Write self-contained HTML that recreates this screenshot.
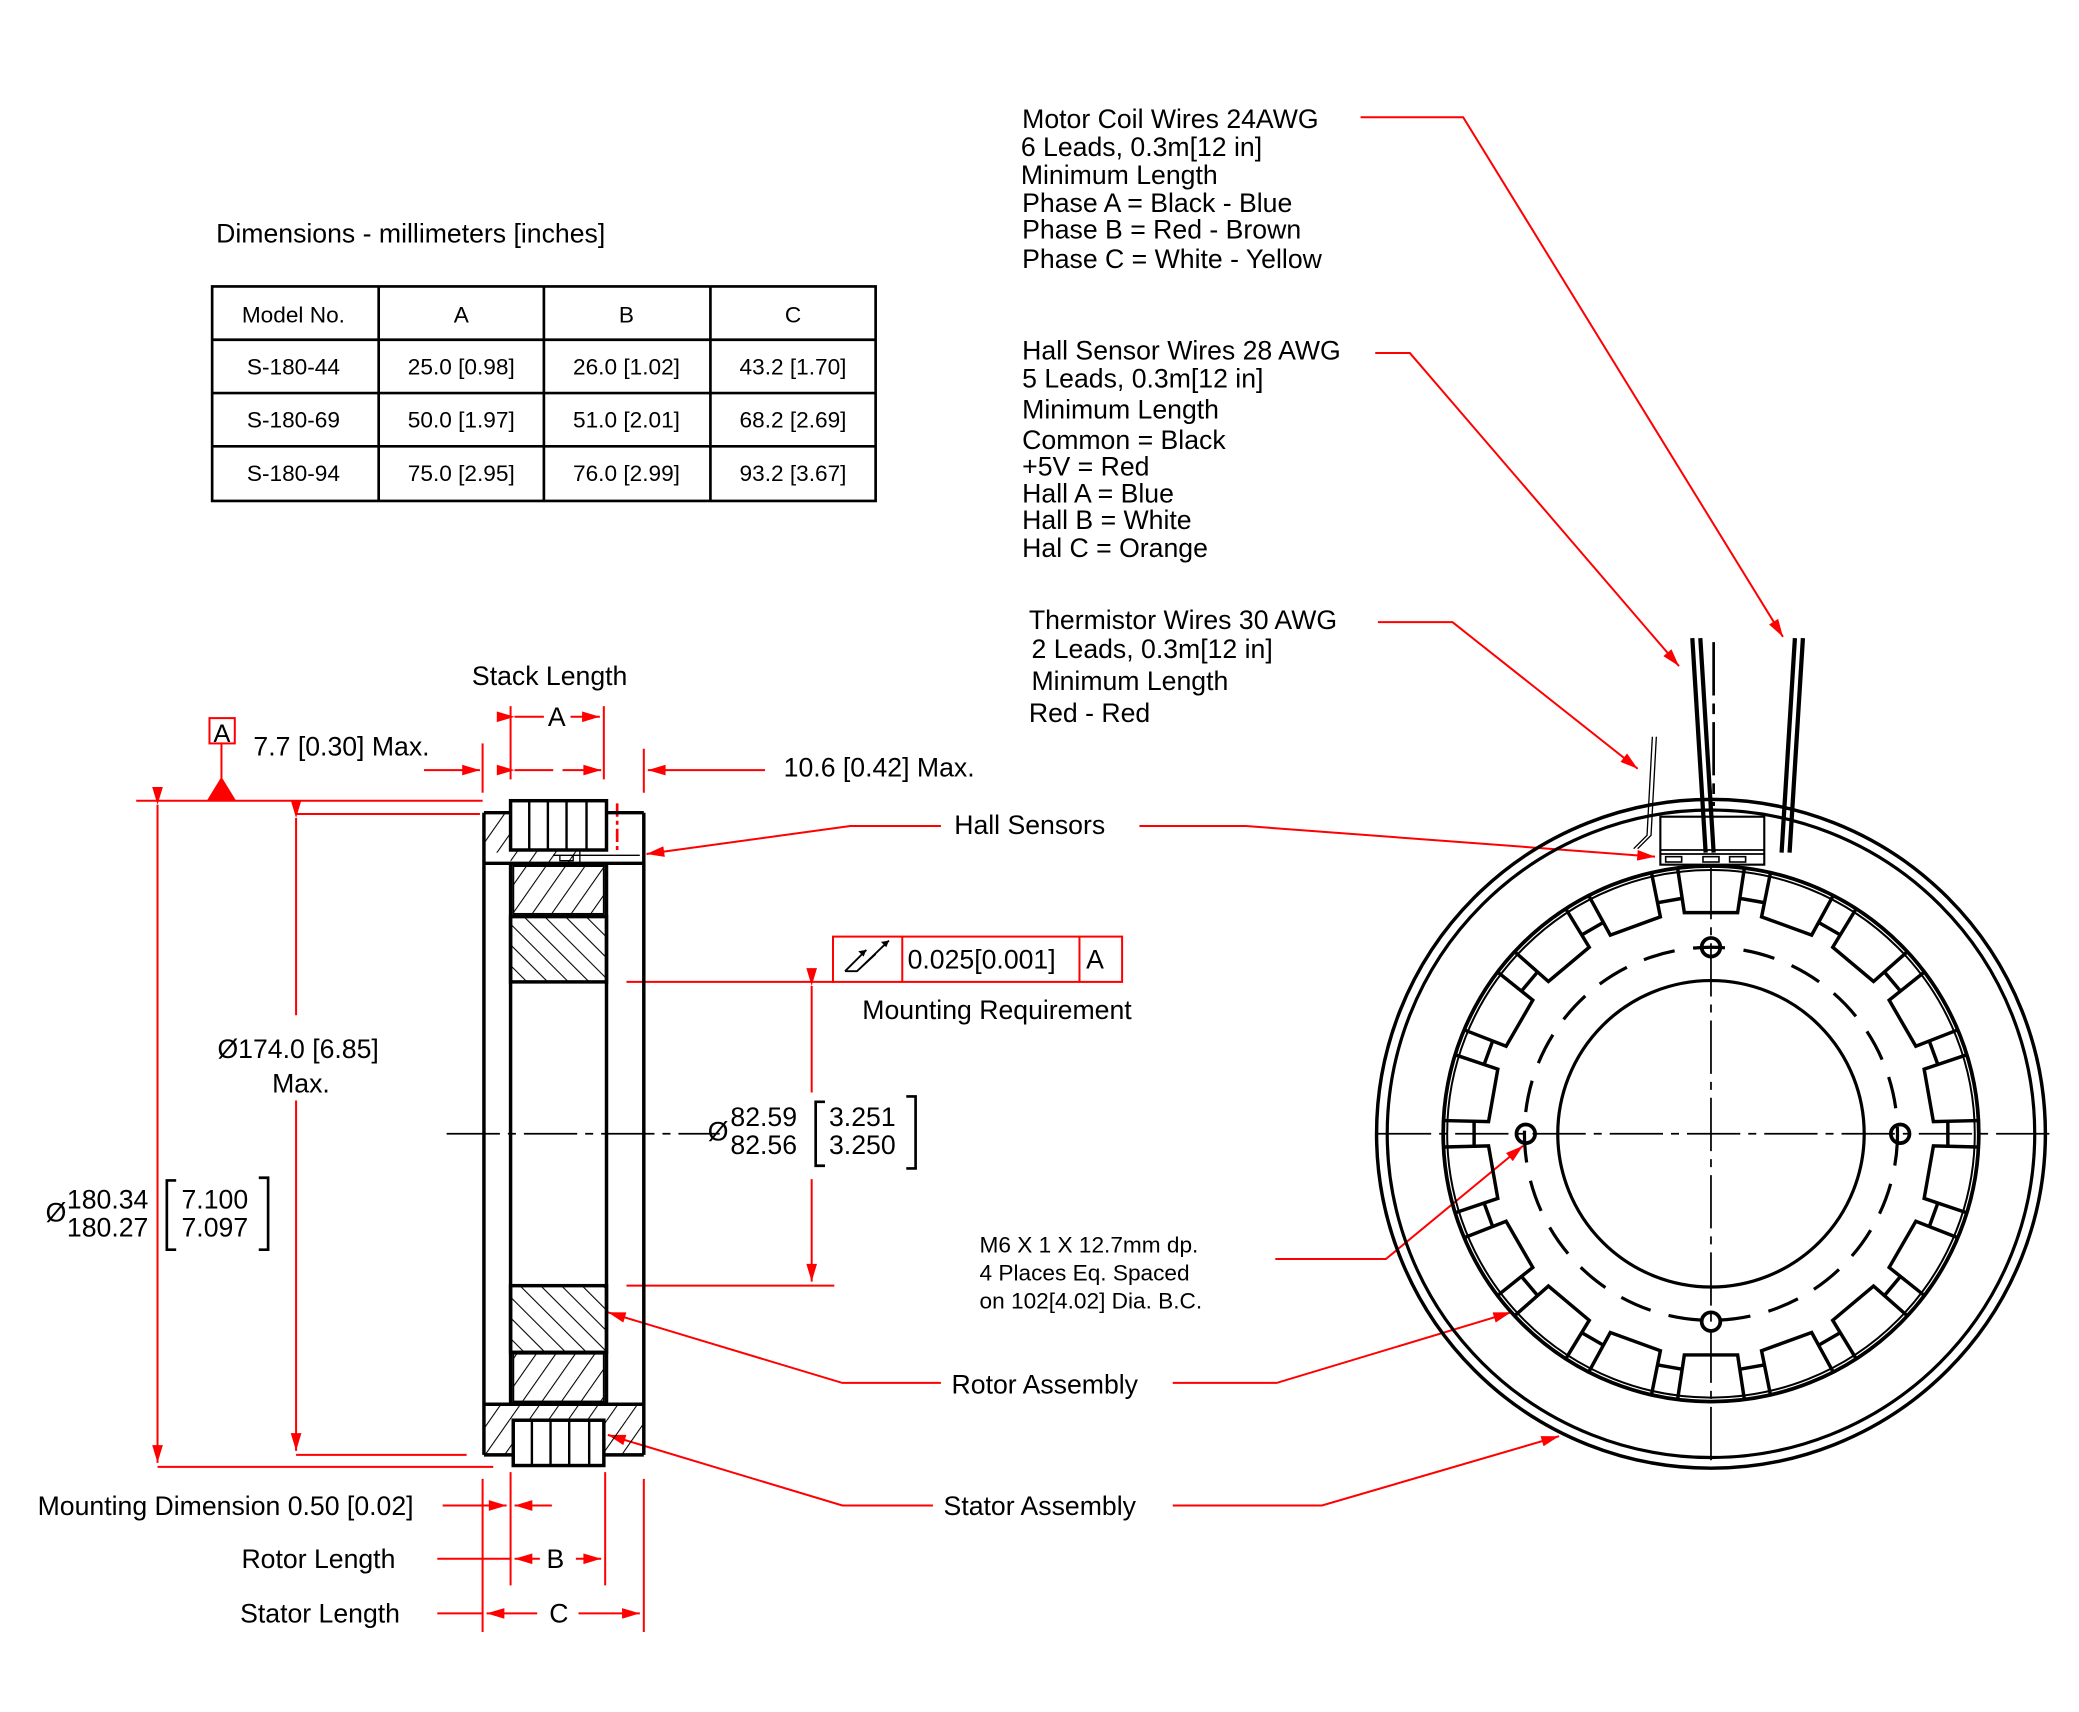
<!DOCTYPE html>
<html><head><meta charset="utf-8"><style>html,body{margin:0;padding:0;background:#fff}svg{display:block}</style></head><body>
<svg width="2079" height="1712" viewBox="0 0 1560 1285" xmlns="http://www.w3.org/2000/svg" font-family="Liberation Sans, Arial, sans-serif">
<defs>
<pattern id="hf" patternUnits="userSpaceOnUse" width="12" height="12" patternTransform="rotate(35)"><line x1="0" y1="0" x2="0" y2="12" stroke="#000" stroke-width="1.6"/></pattern>
<pattern id="hb" patternUnits="userSpaceOnUse" width="11" height="11" patternTransform="rotate(-45)"><line x1="0" y1="0" x2="0" y2="11" stroke="#000" stroke-width="1.6"/></pattern>
<marker id="ar" viewBox="0 0 10 6" refX="10" refY="3" markerWidth="14" markerHeight="8" markerUnits="userSpaceOnUse" orient="auto"><path d="M0,0 L10,3 L0,6 z" fill="#f00"/></marker>
<g id="tooth" fill="none" stroke="#000" stroke-width="2.6">
<polyline points="1259,652 1264,685 1304,685 1309,652"/>
<line x1="1306.3" y1="674.4" x2="1323.4" y2="677.4"/>
</g>
</defs>
<rect width="1560" height="1285" fill="#fff"/>

<text x="162" y="182" font-size="20">Dimensions - millimeters [inches]</text>
<g stroke="#000" stroke-width="2" fill="none">
<rect x="159" y="215" width="498" height="161"/>
<line x1="284" y1="215" x2="284" y2="376"/><line x1="408" y1="215" x2="408" y2="376"/><line x1="533" y1="215" x2="533" y2="376"/>
<line x1="159" y1="255" x2="657" y2="255"/><line x1="159" y1="295" x2="657" y2="295"/><line x1="159" y1="335" x2="657" y2="335"/>
</g>
<g font-size="17" text-anchor="middle">
<text x="220" y="242">Model No.</text><text x="346" y="242">A</text><text x="470" y="242">B</text><text x="595" y="242">C</text>
<text x="220" y="281">S-180-44</text><text x="346" y="281">25.0 [0.98]</text><text x="470" y="281">26.0 [1.02]</text><text x="595" y="281">43.2 [1.70]</text>
<text x="220" y="321">S-180-69</text><text x="346" y="321">50.0 [1.97]</text><text x="470" y="321">51.0 [2.01]</text><text x="595" y="321">68.2 [2.69]</text>
<text x="220" y="361">S-180-94</text><text x="346" y="361">75.0 [2.95]</text><text x="470" y="361">76.0 [2.99]</text><text x="595" y="361">93.2 [3.67]</text>
</g>

<g font-size="20">
<text x="767" y="96">Motor Coil Wires 24AWG</text><text x="766" y="117">6 Leads, 0.3m[12 in]</text><text x="766" y="138">Minimum Length</text><text x="767" y="159">Phase A = Black - Blue</text><text x="767" y="179">Phase B = Red - Brown</text><text x="767" y="201">Phase C = White - Yellow</text>
<text x="767" y="270">Hall Sensor Wires 28 AWG</text><text x="767" y="291">5 Leads, 0.3m[12 in]</text><text x="767" y="314">Minimum Length</text><text x="767" y="337">Common = Black</text><text x="767" y="357">+5V = Red</text><text x="767" y="377">Hall A = Blue</text><text x="767" y="397">Hall B = White</text><text x="767" y="418">Hal C = Orange</text>
<text x="772" y="472">Thermistor Wires 30 AWG</text><text x="774" y="494">2 Leads, 0.3m[12 in]</text><text x="774" y="518">Minimum Length</text><text x="772" y="542">Red - Red</text>
<text x="354" y="514">Stack Length</text>
<text x="190" y="567">7.7 [0.30] Max.</text>
<text x="588" y="583">10.6 [0.42] Max.</text>
<text x="716" y="626">Hall Sensors</text>
<text x="647" y="765">Mounting Requirement</text>
<text x="163" y="794">Ø174.0 [6.85]</text><text x="204" y="820">Max.</text>
<text x="714" y="1046">Rotor Assembly</text>
<text x="708" y="1137">Stator Assembly</text>
<text x="28" y="1137">Mounting Dimension  0.50 [0.02]</text>
<text x="181" y="1177">Rotor Length</text>
<text x="180" y="1218">Stator Length</text>
<text x="410" y="1177">B</text><text x="412" y="1218">C</text><text x="411" y="545">A</text>
<text x="681" y="727">0.025[0.001]</text><text x="815" y="727">A</text>
<text x="160" y="557" font-size="19">A</text>
<text x="531" y="856">Ø</text><text x="548" y="845">82.59</text><text x="548" y="866">82.56</text>
<text x="622" y="845">3.251</text><text x="622" y="866">3.250</text>
<text x="34" y="917">Ø</text><text x="50" y="907">180.34</text><text x="50" y="928">180.27</text>
<text x="136" y="907">7.100</text><text x="136" y="928">7.097</text>
</g>
<g font-size="17"><text x="735" y="940">M6 X 1 X 12.7mm dp.</text><text x="735" y="961">4 Places Eq. Spaced</text><text x="735" y="982">on 102[4.02] Dia. B.C.</text></g>
<g stroke="#000" stroke-width="2" fill="none">
<polyline points="619,827 612,827 612,875 619,875"/><polyline points="680,823 687,823 687,877 680,877"/>
<polyline points="132,886 125,886 125,938 132,938"/><polyline points="194,884 201,884 201,938 194,938"/>
</g>

<g stroke="#f00" stroke-width="1.5" fill="none">
<rect x="157" y="539" width="19" height="19"/>
<line x1="166" y1="558" x2="166" y2="585"/>
<line x1="102" y1="601" x2="362" y2="601"/>
<line x1="222" y1="611" x2="360" y2="611"/>
<line x1="118" y1="1101" x2="370" y2="1101"/>
<line x1="222" y1="1092" x2="350" y2="1092"/>
<line x1="118" y1="604" x2="118" y2="1098" marker-start="url(#ar)" marker-end="url(#ar)"/>
<line x1="222" y1="614" x2="222" y2="762" marker-start="url(#ar)"/><line x1="222" y1="826" x2="222" y2="1089" marker-end="url(#ar)"/>
<line x1="362" y1="558" x2="362" y2="595"/>
<line x1="318" y1="578" x2="360" y2="578" marker-end="url(#ar)"/>
<line x1="383" y1="530" x2="383" y2="585"/><line x1="453" y1="530" x2="453" y2="585"/>
<line x1="386" y1="538" x2="408" y2="538" marker-start="url(#ar)"/><line x1="428" y1="538" x2="450" y2="538" marker-end="url(#ar)"/>
<line x1="386" y1="578" x2="415" y2="578" marker-start="url(#ar)"/><line x1="422" y1="578" x2="451" y2="578" marker-end="url(#ar)"/>
<line x1="483" y1="562" x2="483" y2="595"/><line x1="574" y1="578" x2="486" y2="578" marker-end="url(#ar)"/>
<line x1="463" y1="603" x2="463" y2="640" stroke-dasharray="10,3,3,3" stroke-width="2"/>
<polyline points="706,620 638,620 485,641" marker-end="url(#ar)"/>
<line x1="470" y1="737" x2="626" y2="737"/><line x1="470" y1="965" x2="626" y2="965"/>
<line x1="609" y1="740" x2="609" y2="820" marker-start="url(#ar)"/><line x1="609" y1="885" x2="609" y2="962" marker-end="url(#ar)"/>
<rect x="625" y="703" width="217" height="34"/><line x1="677" y1="703" x2="677" y2="737"/><line x1="810" y1="703" x2="810" y2="737"/>
<polyline points="706,1038 632,1038 456,985" marker-end="url(#ar)"/>
<polyline points="700,1130 632,1130 456,1077" marker-end="url(#ar)"/>
<polyline points="880,1038 958,1038 1134,985" marker-end="url(#ar)"/>
<polyline points="880,1130 992,1130 1170,1078" marker-end="url(#ar)"/>
<polyline points="957,945 1040,945 1143,860" marker-end="url(#ar)"/>
<polyline points="855,620 935,620 1242,643" marker-end="url(#ar)"/>
<polyline points="1021,88 1098,88 1338,478" marker-end="url(#ar)"/>
<polyline points="1032,265 1058,265 1260,500" marker-end="url(#ar)"/>
<polyline points="1034,467 1090,467 1229,577" marker-end="url(#ar)"/>
<line x1="332" y1="1130" x2="380" y2="1130" marker-end="url(#ar)"/><line x1="414" y1="1130" x2="386" y2="1130" marker-end="url(#ar)"/>
<line x1="362" y1="1110" x2="362" y2="1225"/><line x1="383" y1="1105" x2="383" y2="1190"/><line x1="454" y1="1105" x2="454" y2="1190"/><line x1="483" y1="1110" x2="483" y2="1225"/>
<line x1="328" y1="1170" x2="383" y2="1170"/><line x1="405" y1="1170" x2="386" y2="1170" marker-end="url(#ar)"/><line x1="432" y1="1170" x2="451" y2="1170" marker-end="url(#ar)"/>
<line x1="328" y1="1211" x2="362" y2="1211"/><line x1="403" y1="1211" x2="365" y2="1211" marker-end="url(#ar)"/><line x1="434" y1="1211" x2="480" y2="1211" marker-end="url(#ar)"/>
</g>
<polygon points="155,601 177,601 166,583" fill="#f00"/>
<g stroke="#000" stroke-width="1.4" fill="none"><path d="M634,729 L643,729 L667,706 M643,729 L657,716 M634,729 L650,713"/></g>
<path d="M650,713 l-6,1 4,4z M667,706 l-6,1 4,4z" fill="#000"/>

<g stroke="#000" stroke-width="2.6" fill="none">
<line x1="363" y1="610" x2="363" y2="1092"/><line x1="483" y1="610" x2="483" y2="1092"/>
<line x1="383" y1="648" x2="383" y2="1054"/><line x1="455" y1="648" x2="455" y2="1054"/>
</g>
<rect x="363" y="610" width="20" height="30" fill="url(#hf)"/>
<rect x="383" y="638" width="52" height="10" fill="url(#hf)"/>
<rect x="385" y="650" width="68" height="36" fill="url(#hf)" stroke="#000" stroke-width="1.5"/>
<rect x="383" y="688" width="72" height="49" fill="url(#hb)" stroke="#000" stroke-width="2.6"/>
<rect x="383" y="965" width="72" height="50" fill="url(#hb)" stroke="#000" stroke-width="2.6"/>
<rect x="385" y="1016" width="68" height="36" fill="url(#hf)" stroke="#000" stroke-width="1.5"/>
<rect x="363" y="1054" width="120" height="12" fill="url(#hf)"/>
<rect x="363" y="1066" width="22" height="26" fill="url(#hf)"/>
<rect x="453" y="1066" width="30" height="26" fill="url(#hf)"/>
<g stroke="#000" stroke-width="2.6" fill="none">
<path d="M363,610 H383 M455,610 H483 M363,648 H483 M363,1054 H483 M363,1092 H385 M453,1092 H483"/>
<rect x="383" y="601" width="72" height="37" fill="#fff"/>
<rect x="385" y="1066" width="68" height="34" fill="#fff"/>
<path d="M397,601 V638 M411,601 V638 M425,601 V638 M440,601 V638 M399,1066 V1100 M413,1066 V1100 M427,1066 V1100 M442,1066 V1100" stroke-width="1.8"/>
<line x1="435" y1="638" x2="435" y2="648" stroke-width="1"/>
</g>
<path d="M415,642 H480 M420,642 V646 H430 V642" stroke="#000" stroke-width="1" fill="none"/>
<line x1="335" y1="851" x2="540" y2="851" stroke="#000" stroke-width="1.3" stroke-dasharray="40,6,6,6"/>

<g stroke="#000" fill="none">
<circle cx="1284" cy="851" r="251" stroke-width="2.6"/>
<circle cx="1284" cy="851" r="243" stroke-width="2.4"/>
<circle cx="1284" cy="851" r="201" stroke-width="2.8"/>
<circle cx="1284" cy="851" r="198" stroke-width="1.5"/>
<circle cx="1284" cy="851" r="115" stroke-width="2.4"/>
<circle cx="1284" cy="851" r="140" stroke-width="2.4" stroke-dasharray="24,14"/>
<circle cx="1284" cy="711" r="7" stroke-width="2.8"/><circle cx="1284" cy="992" r="7" stroke-width="2.8"/>
<circle cx="1145" cy="851" r="7" stroke-width="2.8"/><circle cx="1426" cy="851" r="7" stroke-width="2.8"/>
<line x1="1034" y1="851" x2="1538" y2="851" stroke-width="1.3" stroke-dasharray="40,6,6,6"/>
</g>
<g>
<use href="#tooth"/>
<use href="#tooth" transform="rotate(20 1284 851)"/><use href="#tooth" transform="rotate(40 1284 851)"/><use href="#tooth" transform="rotate(60 1284 851)"/>
<use href="#tooth" transform="rotate(80 1284 851)"/><use href="#tooth" transform="rotate(100 1284 851)"/><use href="#tooth" transform="rotate(120 1284 851)"/>
<use href="#tooth" transform="rotate(140 1284 851)"/><use href="#tooth" transform="rotate(160 1284 851)"/><use href="#tooth" transform="rotate(180 1284 851)"/>
<use href="#tooth" transform="rotate(200 1284 851)"/><use href="#tooth" transform="rotate(220 1284 851)"/><use href="#tooth" transform="rotate(240 1284 851)"/>
<use href="#tooth" transform="rotate(260 1284 851)"/><use href="#tooth" transform="rotate(280 1284 851)"/><use href="#tooth" transform="rotate(300 1284 851)"/>
<use href="#tooth" transform="rotate(320 1284 851)"/><use href="#tooth" transform="rotate(340 1284 851)"/>
</g>
<line x1="1284" y1="650" x2="1284" y2="1103" stroke="#000" stroke-width="1.3" stroke-dasharray="40,6,6,6"/>
<rect x="1246" y="613" width="78" height="36" fill="#fff" stroke="#000" stroke-width="1.6"/>
<path d="M1246,638 H1324 M1246,641 H1324" stroke="#000" stroke-width="1.3"/>
<g fill="none" stroke="#000" stroke-width="1.2"><rect x="1250" y="643" width="12" height="4"/><rect x="1278" y="643" width="12" height="4"/><rect x="1298" y="643" width="12" height="4"/></g>
<g stroke="#000" stroke-width="3.2" fill="none">
<line x1="1270" y1="479" x2="1280" y2="640"/><line x1="1276" y1="479" x2="1286" y2="640"/>
<line x1="1347" y1="479" x2="1337" y2="640"/><line x1="1353" y1="479" x2="1343" y2="640"/>
</g>
<line x1="1286" y1="482" x2="1286" y2="605" stroke="#000" stroke-width="2" stroke-dasharray="40,6,8,6"/>
<g stroke="#000" stroke-width="1" fill="none"><polyline points="1240,553 1236,627 1226,637"/><polyline points="1243,553 1239,627 1229,637"/></g>
</svg>
</body></html>
